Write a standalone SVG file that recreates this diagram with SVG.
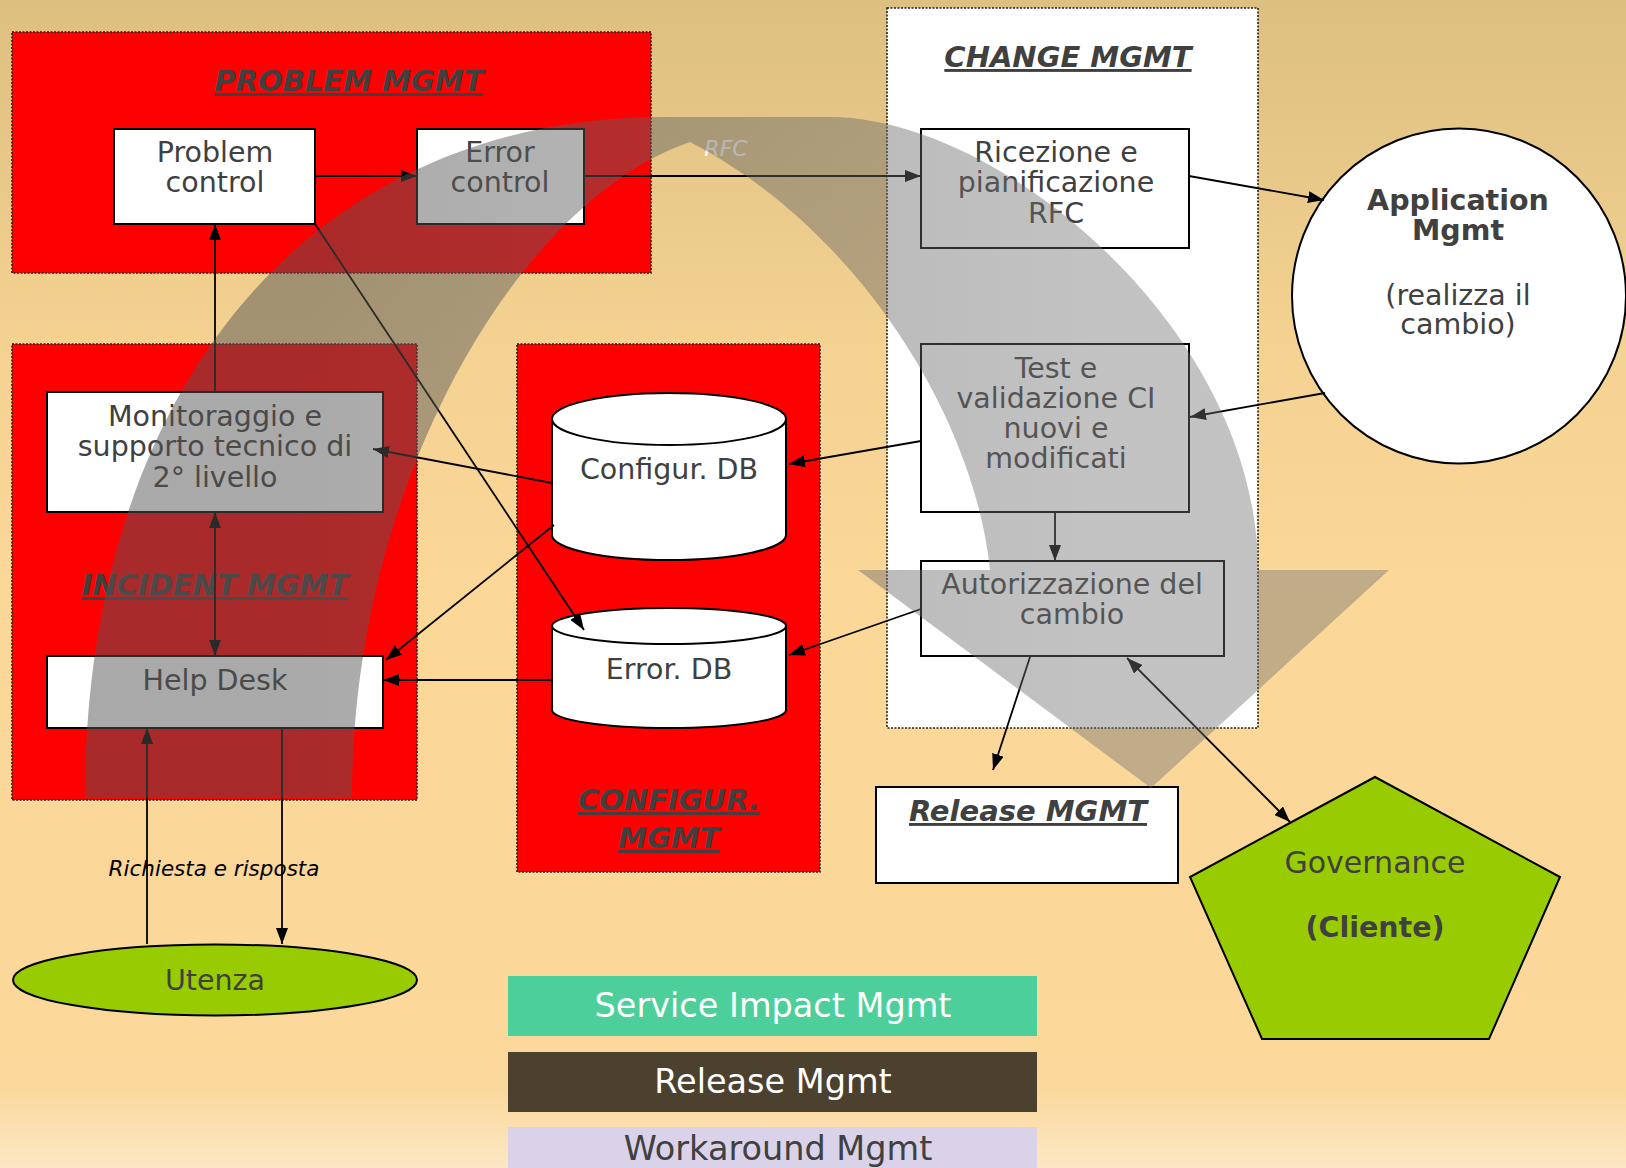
<svg xmlns="http://www.w3.org/2000/svg" width="1626" height="1168" viewBox="0 0 1626 1168">
<defs>
<linearGradient id="bg" x1="0" y1="0" x2="0" y2="1">
<stop offset="0" stop-color="#ddbf80"/>
<stop offset="0.3" stop-color="#f4d292"/>
<stop offset="0.5" stop-color="#fbd798"/>
<stop offset="0.93" stop-color="#fbd89b"/>
<stop offset="1" stop-color="#fce7c4"/>
</linearGradient>
<linearGradient id="ov" gradientUnits="userSpaceOnUse" x1="300" y1="0" x2="1100" y2="0">
<stop offset="0" stop-color="#545454" stop-opacity="0.5"/>
<stop offset="1" stop-color="#727272" stop-opacity="0.43"/>
</linearGradient>
<marker id="ah" viewBox="0 0 16 12" refX="16" refY="6" markerWidth="16" markerHeight="12" markerUnits="userSpaceOnUse" orient="auto-start-reverse">
<path d="M0,0 L16,6 L0,12 z" fill="#000"/>
</marker>
<style>
.cont{stroke:#222;stroke-width:1.6;stroke-dasharray:2 1.5}
.red{fill:#ff0000}
.box{fill:#fff;stroke:#000;stroke-width:2}
.t{font-family:"DejaVu Sans",sans-serif;font-size:28.5px;fill:#404040;text-anchor:middle}
.b{font-weight:bold}
.title{font-family:"DejaVu Sans",sans-serif;font-size:29px;font-weight:bold;font-style:italic;text-decoration:underline;fill:#404040;text-anchor:middle}
.c{fill:none;stroke:#000;stroke-width:1.8}
.end{marker-end:url(#ah)}
.both{marker-start:url(#ah);marker-end:url(#ah)}
.leg{font-family:"DejaVu Sans",sans-serif;font-size:33.5px;text-anchor:middle}
</style>
</defs>
<rect x="0" y="0" width="1626" height="1168" fill="url(#bg)"/>

<g id="problem-mgmt">
<rect class="cont red" x="12" y="32" width="639" height="241"/>
<text class="title" x="349" y="91">PROBLEM MGMT</text>
</g>
<g id="incident-mgmt">
<rect class="cont red" x="12" y="344" width="405" height="456"/>
<text class="title" x="215" y="595">INCIDENT MGMT</text>
</g>
<g id="configur-mgmt">
<rect class="cont red" x="517" y="344" width="303" height="528"/>
<text class="title" x="669" y="810">CONFIGUR.</text>
<text class="title" x="669" y="848">MGMT</text>
</g>
<g id="change-mgmt">
<rect class="cont" fill="#fff" x="887" y="8" width="371" height="720"/>
<text class="title" x="1068" y="67">CHANGE MGMT</text>
</g>

<g id="problem-control">
<rect class="box" x="114" y="129" width="201" height="95"/>
<text class="t" x="215" y="162">Problem<tspan x="215" dy="30">control</tspan></text>
</g>
<g id="error-control">
<rect class="box" x="417" y="129" width="167" height="95"/>
<text class="t" x="500" y="162">Error<tspan x="500" dy="30">control</tspan></text>
</g>
<g id="monitoraggio">
<rect class="box" x="47" y="392" width="336" height="120"/>
<text class="t" x="215" y="426">Monitoraggio e<tspan x="215" dy="30">supporto tecnico di</tspan><tspan x="215" dy="30.5">2° livello</tspan></text>
</g>
<g id="help-desk">
<rect class="box" x="47" y="656" width="336" height="72"/>
<text class="t" x="215" y="690">Help Desk</text>
</g>
<g id="configur-db">
<path class="box" d="M552,419 L552,535 A117,25 0 0 0 786,535 L786,419"/>
<ellipse class="box" cx="669" cy="419" rx="117" ry="26"/>
<text class="t" x="669" y="479">Configur. DB</text>
</g>
<g id="error-db">
<path class="box" d="M552,626 L552,710 A117,18 0 0 0 786,710 L786,626"/>
<ellipse class="box" cx="669" cy="626" rx="117" ry="18"/>
<text class="t" x="669" y="679">Error. DB</text>
</g>
<g id="ricezione">
<rect class="box" x="921" y="129" width="268" height="119"/>
<text class="t" x="1056" y="162">Ricezione e<tspan x="1056" dy="30">pianificazione</tspan><tspan x="1056" dy="30.5">RFC</tspan></text>
</g>
<g id="test">
<rect class="box" x="921" y="344" width="268" height="168"/>
<text class="t" x="1056" y="378">Test e<tspan x="1056" dy="30">validazione CI</tspan><tspan x="1056" dy="30">nuovi e</tspan><tspan x="1056" dy="30">modificati</tspan></text>
</g>
<g id="autorizzazione">
<rect class="box" x="921" y="561" width="303" height="95"/>
<text class="t" x="1072" y="594">Autorizzazione del<tspan x="1072" dy="30">cambio</tspan></text>
</g>
<g id="application-mgmt">
<ellipse class="box" cx="1459" cy="296" rx="167" ry="167.5"/>
<text class="t" x="1458" y="210"><tspan class="b">Application</tspan><tspan class="b" x="1458" dy="30">Mgmt</tspan><tspan x="1458" dy="65">(realizza il</tspan><tspan x="1458" dy="29">cambio)</tspan></text>
</g>
<g id="release-mgmt">
<rect class="box" x="876" y="787" width="302" height="96"/>
<text class="title" x="1028" y="821">Release MGMT</text>
</g>
<g id="governance">
<polygon points="1375,777 1560,877 1489,1039 1262,1039 1190,877" fill="#99cc00" stroke="#000" stroke-width="2"/>
<text class="t" x="1375" y="873" style="font-size:30px">Governance</text>
<text class="t b" x="1375" y="937">(Cliente)</text>
</g>
<g id="utenza">
<ellipse cx="215" cy="980" rx="202" ry="35.5" fill="#99cc00" stroke="#000" stroke-width="2"/>
<text class="t" x="215" y="990">Utenza</text>
</g>

<g id="connectors">
<line class="c end" x1="315" y1="176" x2="417" y2="176"/>
<line class="c end" x1="584" y1="176" x2="921" y2="176"/>
<text x="726" y="156" style="font-family:'DejaVu Sans',sans-serif;font-size:22px;font-style:italic;fill:#fff;text-anchor:middle">RFC</text>
<line class="c end" x1="1189" y1="176" x2="1324" y2="200"/>
<line class="c end" x1="1325" y1="393" x2="1190" y2="417"/>
<line class="c end" x1="921" y1="441" x2="789" y2="464"/>
<line class="c end" x1="1055" y1="512" x2="1055" y2="561"/>
<line class="c end" x1="921" y1="609" x2="789" y2="655"/>
<line class="c end" x1="1030" y1="657" x2="993" y2="770"/>
<line class="c both" x1="1127" y1="658" x2="1290" y2="822"/>
<line class="c end" x1="552" y1="483" x2="373" y2="449"/>
<line class="c end" x1="554" y1="525" x2="386" y2="660"/>
<line class="c end" x1="552" y1="680" x2="383" y2="680"/>
<line class="c end" x1="315" y1="224" x2="584" y2="630"/>
<line class="c end" x1="215" y1="392" x2="215" y2="224"/>
<line class="c both" x1="215" y1="512" x2="215" y2="656"/>
<line class="c end" x1="147" y1="944" x2="147" y2="728"/>
<line class="c end" x1="282" y1="728" x2="282" y2="944"/>
<text x="214" y="876" style="font-family:'DejaVu Sans',sans-serif;font-size:21.5px;font-style:italic;fill:#000;text-anchor:middle">Richiesta e risposta</text>
</g>

<g id="flow-arrow">
<path d="M85,798 C85,390 310,117 664,117 L830,117 C1000,117 1258,330 1258,570 L1389,570 L1151,788 L858,570 L990,570 C975,420 860,230 690,142 C520,200 352,480 352,798 Z" fill="url(#ov)"/>
</g>

<g id="legend-service-impact">
<rect x="508" y="976" width="529" height="60" fill="#4ccf9a"/>
<text class="leg" x="773" y="1017" fill="#fff">Service Impact Mgmt</text>
</g>
<g id="legend-release">
<rect x="508" y="1052" width="529" height="60" fill="#4c402e"/>
<text class="leg" x="773" y="1093" fill="#fff">Release Mgmt</text>
</g>
<g id="legend-workaround">
<rect x="508" y="1127" width="529" height="41" fill="#dad2e8"/>
<text class="leg" x="778" y="1160" fill="#404040">Workaround Mgmt</text>
</g>
</svg>
